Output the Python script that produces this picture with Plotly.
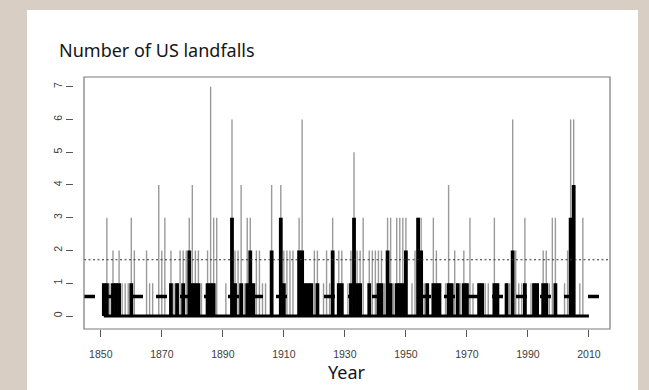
import plotly.graph_objects as go

# Annual US hurricane landfalls, 1851-2010: all hurricanes and major hurricanes
years = list(range(1851, 2011))

all_landfalls = [
    1, 3, 1, 2, 1, 2, 1, 1, 1, 3,   # 1851-1860
    2, 0, 0, 0, 2, 1, 1, 0, 4, 2,   # 1861-1870
    3, 0, 2, 1, 1, 2, 2, 2, 3, 4,   # 1871-1880
    2, 2, 1, 0, 2, 7, 3, 3, 0, 0,   # 1881-1890
    1, 0, 6, 2, 2, 4, 1, 3, 3, 1,   # 1891-1900
    2, 2, 1, 1, 0, 4, 0, 0, 4, 2,   # 1901-1910
    2, 2, 2, 0, 3, 6, 1, 1, 1, 2,   # 1911-1920
    2, 0, 1, 2, 1, 3, 0, 2, 2, 0,   # 1921-1930
    1, 2, 5, 2, 2, 3, 0, 2, 2, 2,   # 1931-1940
    2, 2, 1, 3, 3, 1, 3, 3, 3, 3,   # 1941-1950
    0, 1, 2, 3, 3, 1, 1, 0, 3, 2,   # 1951-1960
    1, 0, 1, 4, 1, 2, 1, 1, 2, 1,   # 1961-1970
    3, 1, 0, 1, 1, 1, 1, 0, 3, 1,   # 1971-1980
    0, 0, 1, 1, 6, 2, 1, 1, 3, 0,   # 1981-1990
    1, 1, 1, 0, 2, 2, 1, 3, 3, 0,   # 1991-2000
    0, 1, 2, 6, 6, 0, 1, 3, 0, 0,   # 2001-2010
]

major_landfalls = [
    1, 1, 0, 1, 1, 1, 0, 0, 0, 1,   # 1851-1860
    0, 0, 0, 0, 0, 0, 0, 0, 0, 0,   # 1861-1870
    0, 0, 1, 0, 1, 0, 1, 0, 2, 1,   # 1871-1880
    1, 1, 0, 0, 1, 1, 1, 0, 0, 0,   # 1881-1890
    0, 0, 3, 1, 0, 1, 0, 1, 2, 1,   # 1891-1900
    0, 0, 0, 0, 0, 2, 0, 0, 3, 1,   # 1901-1910
    0, 0, 0, 0, 2, 2, 1, 1, 1, 0,   # 1911-1920
    1, 0, 0, 0, 0, 2, 0, 1, 1, 0,   # 1921-1930
    0, 1, 3, 1, 1, 0, 0, 1, 0, 0,   # 1931-1940
    1, 1, 0, 2, 1, 0, 1, 1, 1, 2,   # 1941-1950
    0, 0, 0, 3, 2, 0, 1, 0, 1, 1,   # 1951-1960
    1, 0, 0, 1, 1, 0, 1, 0, 1, 1,   # 1961-1970
    0, 0, 0, 1, 1, 0, 0, 0, 1, 1,   # 1971-1980
    0, 0, 1, 0, 2, 0, 0, 0, 1, 0,   # 1981-1990
    0, 1, 1, 0, 1, 1, 0, 0, 1, 0,   # 1991-2000
    0, 0, 0, 3, 4, 0, 0, 0, 0, 0,   # 2001-2010
]

x_ticks = [1850, 1870, 1890, 1910, 1930, 1950, 1970, 1990, 2010]
y_ticks = [0, 1, 2, 3, 4, 5, 6, 7]

mean_all = sum(all_landfalls) / len(all_landfalls)
mean_major = sum(major_landfalls) / len(major_landfalls)


def stems(xs, hs):
    """Vertical spikes from zero, like R's type='h'."""
    px, py = [], []
    for a, h in zip(xs, hs):
        if h > 0:
            px += [a, a, None]
            py += [0, h, None]
    return px, py


fig = go.Figure()

gx, gy = stems(years, all_landfalls)
fig.add_trace(go.Scatter(x=gx, y=gy, mode="lines",
                         line=dict(color="#9a9a9a", width=1.4),
                         hoverinfo="skip", showlegend=False))

# zero-height majors still leave a thick black baseline
fig.add_trace(go.Scatter(x=years, y=[0] * len(years), mode="lines",
                         line=dict(color="black", width=3),
                         hoverinfo="skip", showlegend=False))

bx, by = stems(years, major_landfalls)
fig.add_trace(go.Scatter(x=bx, y=by, mode="lines",
                         line=dict(color="black", width=3.8),
                         hoverinfo="skip", showlegend=False))

# long-run averages
fig.add_shape(type="line", xref="x domain", yref="y", x0=0, x1=1,
              y0=mean_all, y1=mean_all,
              line=dict(color="#333333", width=1.1, dash="2px,2.5px"))
fig.add_shape(type="line", xref="x domain", yref="y", x0=0, x1=1,
              y0=mean_major, y1=mean_major,
              line=dict(color="black", width=3.6, dash="11px,13px"))

# plot frame
fig.add_shape(type="rect", xref="x domain", yref="y domain",
              x0=0, x1=1, y0=0, y1=1,
              line=dict(color="#7a7a7a", width=1.2))

# white card behind everything
fig.add_shape(type="rect", xref="paper", yref="paper",
              x0=(27 - 73) / 537, x1=(638 - 73) / 537,
              y0=(329 - 392) / 252, y1=(329 - 10) / 252,
              fillcolor="white", line=dict(width=0), layer="below")

fig.add_annotation(text="Number of US landfalls", xref="paper", yref="paper",
                   x=(57 - 73) / 537, y=(329 - 50) / 252,
                   xanchor="left", yanchor="middle", showarrow=False,
                   font=dict(family="Noto Sans", size=18, color="#151515"))
fig.add_annotation(text="Year", xref="x domain", yref="paper",
                   x=0.5, y=(329 - 372) / 252,
                   xanchor="center", yanchor="middle", showarrow=False,
                   font=dict(family="Noto Sans", size=18, color="#151515"))

tick_font = dict(family="Liberation Sans", size=10.5, color="#3c3c3c")

fig.update_layout(
    width=649, height=390,
    margin=dict(l=73, r=39, t=77, b=61),
    paper_bgcolor="#d8cec4",
    plot_bgcolor="white",
    showlegend=False,
    xaxis=dict(domain=[11 / 537, 1], range=[1844.5, 2016.9],
               tickvals=x_ticks, ticks="outside", ticklen=7,
               tickcolor="#555555", tickwidth=1, tickfont=tick_font,
               ticklabelstandoff=8,
               showgrid=False, zeroline=False, showline=False),
    yaxis=dict(anchor="free", position=0, domain=[0, 1],
               range=[-0.397, 7.296], tickvals=y_ticks,
               ticks="outside", ticklen=7, tickcolor="#555555", tickwidth=1,
               tickangle=-90, tickfont=tick_font,
               showgrid=False, zeroline=False, showline=False),
)

fig.write_html("out.html")
